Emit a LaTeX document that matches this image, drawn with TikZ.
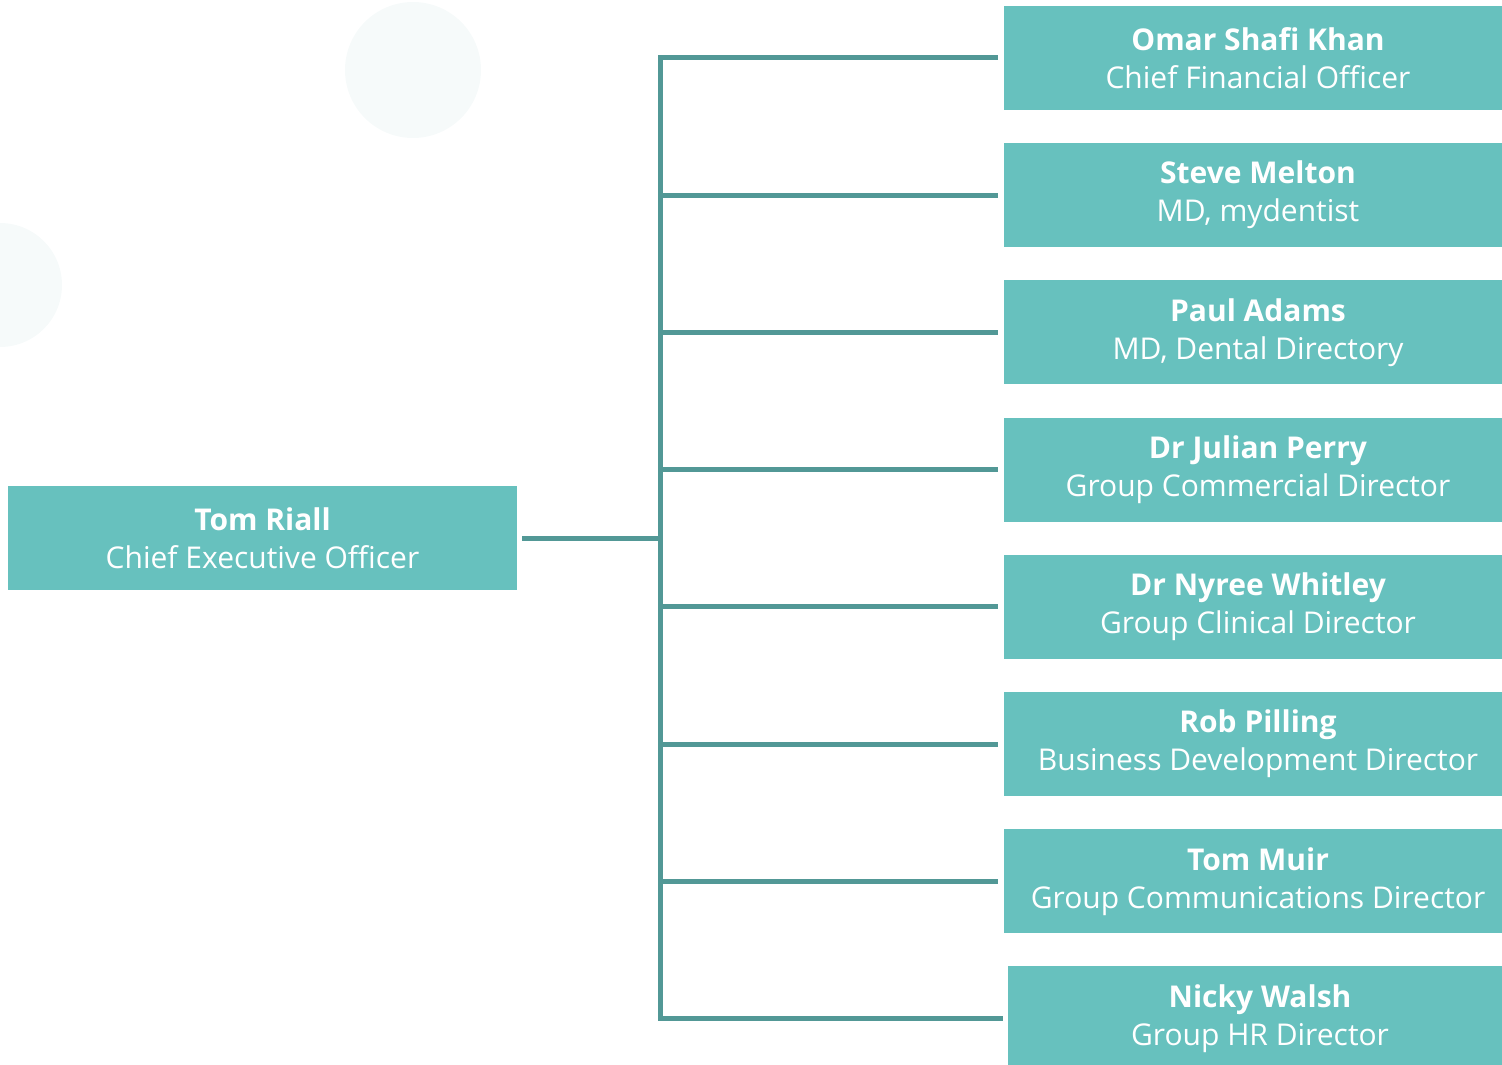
\documentclass[tikz,border=0pt]{standalone}
\usepackage{fontspec}
\setmainfont{Open Sans}
\definecolor{boxteal}{HTML}{67C1BE}
\definecolor{lineteal}{HTML}{529896}
\definecolor{blob}{HTML}{F6FAFA}
\begin{document}
\begin{tikzpicture}[x=0.5pt,y=-0.5pt,
  person/.style={fill=boxteal, text=white, align=center, inner sep=0pt, minimum height=52pt, minimum width=254pt, font=\fontsize{15}{19}\selectfont},
  link/.style={draw=lineteal, line width=2.5pt}]
\clip (0,0) rectangle (1502,1064);
\fill[blob] (413,70) circle (68);
\fill[blob] (0,285) circle (62);
\node[person, minimum width=254.5pt] (ceo) at (262.5,538) {\textbf{Tom Riall}\\Chief Executive Officer};
\node[person] (dir1) at (1258,58) {\textbf{Omar Shafi Khan}\\Chief Financial Officer};
\node[person] (dir2) at (1258,195.2) {\textbf{Steve Melton}\\MD, mydentist};
\node[person] (dir3) at (1258,332.4) {\textbf{Paul Adams}\\MD, Dental Directory};
\node[person] (dir4) at (1258,469.6) {\textbf{Dr Julian Perry}\\Group Commercial Director};
\node[person] (dir5) at (1258,606.8) {\textbf{Dr Nyree Whitley}\\Group Clinical Director};
\node[person] (dir6) at (1258,744) {\textbf{Rob Pilling}\\Business Development Director};
\node[person] (dir7) at (1258,881.2) {\textbf{Tom Muir}\\Group Communications Director};
\node[person, minimum width=252pt] (dir8) at (1260,1018.4) {\textbf{Nicky Walsh}\\Group HR Director};
\coordinate (bus) at (660,538);
\draw[link, shorten <=2.5pt] (ceo) -- (bus);
\draw[link, shorten >=3pt] (bus) |- (dir1);
\draw[link, shorten >=3pt] (bus) |- (dir2);
\draw[link, shorten >=3pt] (bus) |- (dir3);
\draw[link, shorten >=3pt] (bus) |- (dir4);
\draw[link, shorten >=3pt] (bus) |- (dir5);
\draw[link, shorten >=3pt] (bus) |- (dir6);
\draw[link, shorten >=3pt] (bus) |- (dir7);
\draw[link, shorten >=2.5pt] (bus) |- (dir8);
\end{tikzpicture}
\end{document}
